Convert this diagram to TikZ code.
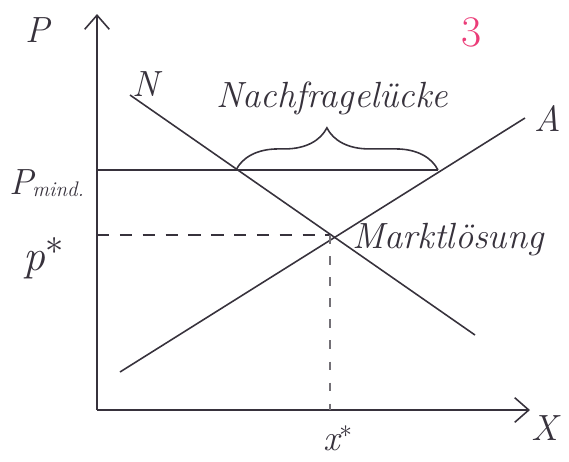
\documentclass[tikz,border=0pt]{standalone}
\usetikzlibrary{arrows.meta,decorations.pathreplacing}
\definecolor{ink}{RGB}{55,50,60}
\definecolor{pinkink}{RGB}{235,60,120}
\begin{document}
\begin{tikzpicture}[x=0.02cm,y=-0.02cm,
  pen/.style={draw=ink,line width=0.9pt},
  axis/.style={pen,-{Straight Barb[length=8pt,width=14pt,line width=0.9pt]}},
  guide/.style={pen,dashed,dash pattern=on 7pt off 6pt},
  lbl/.style={text=ink,font=\huge\itshape,inner sep=0pt},
  word/.style={text=ink,font=\huge\itshape,inner sep=0pt}]
\useasboundingbox (0,0) rectangle (569,461);
% axes
\coordinate (O) at (97,410);
\coordinate (ytop) at (97,14);
\coordinate (xend) at (530,410);
\draw[axis] (O) -- (ytop);
\draw[axis] (O) -- (xend);
% demand and supply
\coordinate (N1) at (130,95);
\coordinate (N2) at (475,335);
\coordinate (A1) at (120,372);
\coordinate (A2) at (525,118);
\draw[pen] (N1) -- (N2);
\draw[pen] (A1) -- (A2);
% equilibrium
\coordinate (E) at (330,235);
\coordinate (pstar) at (97,235);
\coordinate (xstar) at (330,410);
\draw[guide] (pstar) -- (E);
\draw[guide,draw=ink!70,dash pattern=on 5pt off 7pt] (E) -- (xstar);
% minimum price line
\coordinate (pm0) at (97,170);
\coordinate (pmN) at (236,170);
\coordinate (pmA) at (438,170);
\draw[pen] (pm0) -- (pmA);
\draw[pen,decorate,decoration={brace,amplitude=24pt,aspect=0.45}] (pmN) -- (pmA);
% labels
\node[lbl] (lP) at (38,30) {P};
\node[lbl] (lN) at (146,84) {N};
\node[lbl] (lA) at (548,118) {A};
\node[text=pinkink,font=\Huge,inner sep=0pt] (l3) at (472,32) {3};
\node[word] (lgap) at (332,98) {Nachfragelücke};
\node[word,font=\huge\itshape] (lpm) at (47,183) {P\kern-1pt\raisebox{-0.1ex}{\large\itshape mind.}};
\node[lbl,font=\Huge\itshape] (lps) at (44,258) {p$^{*}$};
\node[word] (lml) at (448,240) {Marktlösung};
\node[lbl] (lX) at (545,428) {X};
\node[lbl] (lxs) at (338,438) {x$^{*}$};
\end{tikzpicture}
\end{document}
